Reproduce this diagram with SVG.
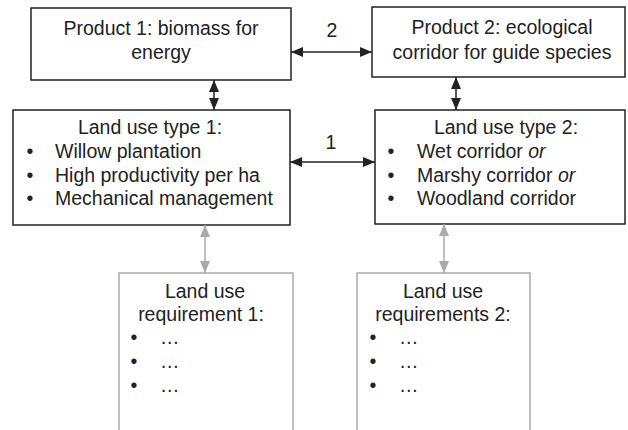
<svg xmlns="http://www.w3.org/2000/svg" width="628" height="430" viewBox="0 0 628 430">
<style>
text{font-family:"Liberation Sans",Arial,sans-serif;font-size:19.5px;fill:#222}
.c{text-anchor:middle}
.box{fill:#fff;stroke:#222;stroke-width:1.5}
.gbox{fill:#fff;stroke:#aaa;stroke-width:1.5}
.bl{stroke:#222;stroke-width:1.5;fill:none}
.gl{stroke:#aaa;stroke-width:1.5;fill:none}
</style>
<defs>
<marker id="ab" viewBox="0 0 12 10" markerUnits="userSpaceOnUse" markerWidth="12" markerHeight="10" refX="12" refY="5" orient="auto-start-reverse"><path d="M0,0 L12,5 L0,10 z" fill="#222"/></marker>
<marker id="ag" viewBox="0 0 12 10" markerUnits="userSpaceOnUse" markerWidth="12" markerHeight="10" refX="12" refY="5" orient="auto-start-reverse"><path d="M0,0 L12,5 L0,10 z" fill="#aaa"/></marker>
</defs>
<g id="p1">
<rect class="box" x="31" y="8" width="260" height="72"/>
<text class="c" x="161" y="35">Product 1: biomass for</text>
<text class="c" x="161" y="59">energy</text>
</g>
<g id="p2">
<rect class="box" x="372" y="7" width="253" height="70"/>
<text class="c" x="502" y="34">Product 2: ecological</text>
<text class="c" x="502" y="59">corridor for guide species</text>
</g>
<g id="lu1">
<rect class="box" x="13" y="110" width="277" height="115"/>
<text class="c" x="150" y="134">Land use type 1:</text>
<text class="c" x="30" y="158">•</text><text x="55" y="158">Willow plantation</text>
<text class="c" x="30" y="182">•</text><text x="55" y="182">High productivity per ha</text>
<text class="c" x="30" y="205">•</text><text x="55" y="205">Mechanical management</text>
</g>
<g id="lu2">
<rect class="box" x="375" y="110" width="250" height="114"/>
<text class="c" x="506" y="134">Land use type 2:</text>
<text class="c" x="391" y="158">•</text><text x="417" y="158">Wet corridor <tspan font-style="italic">or</tspan></text>
<text class="c" x="391" y="182">•</text><text x="417" y="182">Marshy corridor <tspan font-style="italic">or</tspan></text>
<text class="c" x="391" y="205">•</text><text x="417" y="205">Woodland corridor</text>
</g>
<g id="lur1">
<rect class="gbox" x="119" y="273" width="174" height="180"/>
<text class="c" x="205" y="298">Land use</text>
<text class="c" x="201" y="321">requirement 1:</text>
<text class="c" x="134" y="344">•</text><text x="160" y="344">…</text>
<text class="c" x="134" y="368">•</text><text x="160" y="368">…</text>
<text class="c" x="134" y="392">•</text><text x="160" y="392">…</text>
</g>
<g id="lur2">
<rect class="gbox" x="357" y="273" width="173" height="180"/>
<text class="c" x="443" y="298">Land use</text>
<text class="c" x="443" y="321">requirements 2:</text>
<text class="c" x="373" y="344">•</text><text x="399" y="344">…</text>
<text class="c" x="373" y="368">•</text><text x="399" y="368">…</text>
<text class="c" x="373" y="392">•</text><text x="399" y="392">…</text>
</g>
<g id="connectors">
<path class="bl" d="M291,52 H372" marker-start="url(#ab)" marker-end="url(#ab)"/>
<text class="c" x="332" y="37">2</text>
<path class="bl" d="M290,162 H375" marker-start="url(#ab)" marker-end="url(#ab)"/>
<text class="c" x="331" y="149">1</text>
<path class="bl" d="M214,80 V110" marker-start="url(#ab)" marker-end="url(#ab)"/>
<path class="bl" d="M456,77 V110" marker-start="url(#ab)" marker-end="url(#ab)"/>
<path class="gl" d="M205,225 V273" marker-start="url(#ag)" marker-end="url(#ag)"/>
<path class="gl" d="M444,224 V273" marker-start="url(#ag)" marker-end="url(#ag)"/>
</g>
</svg>
